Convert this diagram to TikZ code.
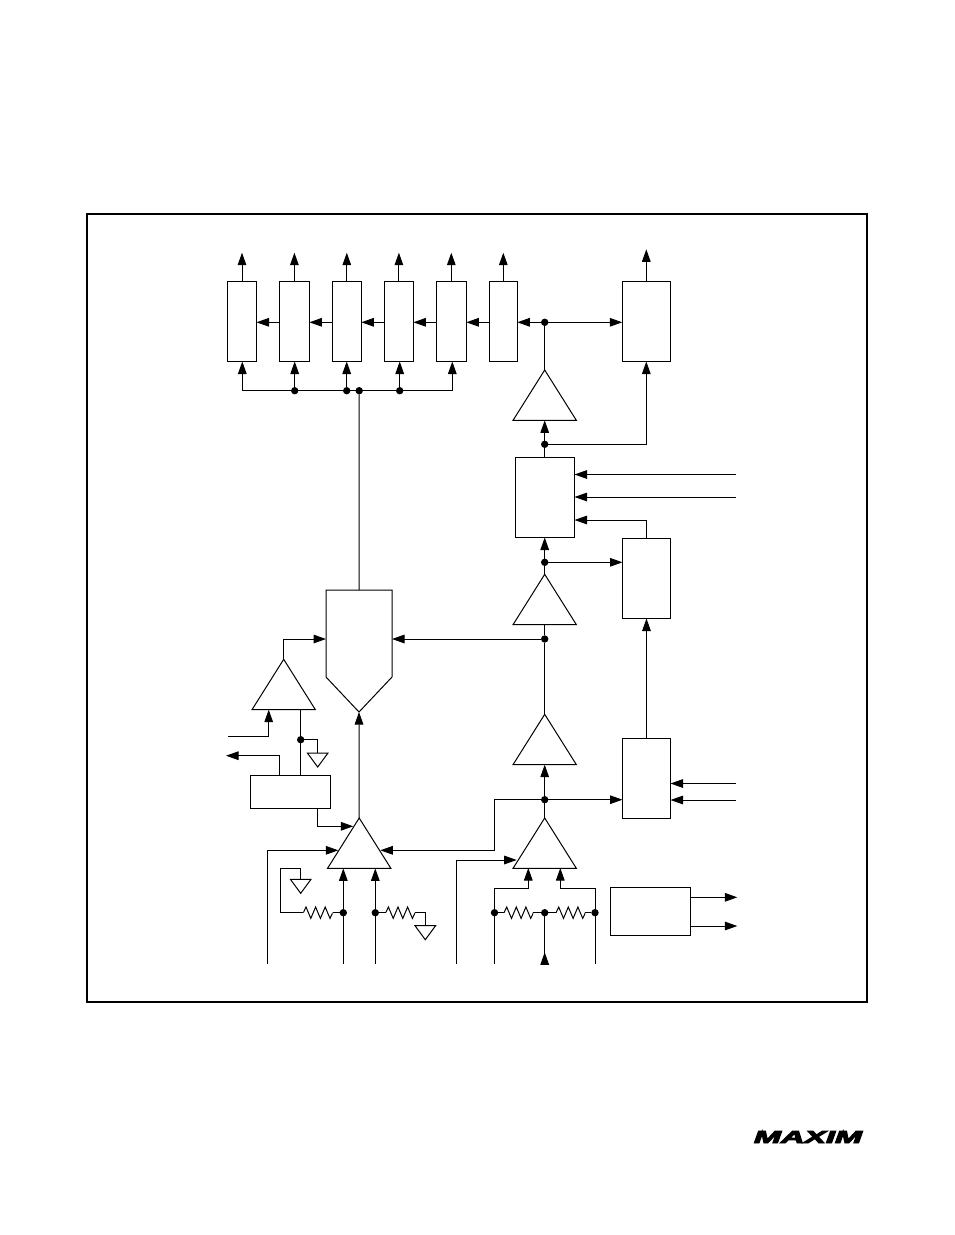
\documentclass[tikz,border=0pt]{standalone}
\usepackage{graphicx}
\usepackage{fontspec}
\newfontfamily\logofont[FakeBold=5]{Liberation Sans Bold Italic}
\usetikzlibrary{arrows.meta,shapes.geometric}
\tikzset{
  wire/.style={line width=1pt,line join=miter},
  arr/.style={wire,-{Triangle[length=12.5pt,width=8.6pt]}},
  frame/.style={draw,line width=2pt},
  box/.style={draw,line width=1pt,minimum width=#1,inner sep=0pt,outer sep=0pt,anchor=center},
  tall/.style={minimum height=80pt},
  amp/.style={draw,line width=1pt,isosceles triangle,isosceles triangle stretches,shape border rotate=90,
     minimum width=63.4pt,minimum height=50.4pt,inner sep=0pt,outer sep=0pt,anchor=apex},
  gnd/.style={draw,line width=1pt,isosceles triangle,isosceles triangle stretches,shape border rotate=-90,
     minimum width=20.6pt,minimum height=14pt,inner sep=0pt,outer sep=0pt,anchor=apex},
  dot/.style={circle,fill=black,minimum size=7.4pt,inner sep=0pt,outer sep=0pt},
  res/.style={minimum width=29.4pt,minimum height=14pt,inner sep=0pt,outer sep=0pt,
     path picture={\draw[line width=1pt] (path picture bounding box.west) -- ++(2.7,-5.7) -- ++(4.8,11.4)
       -- ++(4.8,-11.4) -- ++(4.8,11.4) -- ++(4.8,-11.4) -- ++(4.8,11.4) -- ++(2.7,-5.7);}},
}
\begin{document}
\begin{tikzpicture}[x=1pt,y=-1pt]
\useasboundingbox (0,0) rectangle (954,1235);
% frame
\node[frame,minimum width=780pt,minimum height=788pt,inner sep=0pt,outer sep=0pt] (frm) at (477,608) {};
% top boxes
\node[box=29pt,tall] (b1) at (242,321.5) {};
\node[box=30pt,tall] (b2) at (294.4,321.5) {};
\node[box=29pt,tall] (b3) at (346.8,321.5) {};
\node[box=29pt,tall] (b4) at (398.9,321.5) {};
\node[box=30pt,tall] (b5) at (451.3,321.5) {};
\node[box=28pt,tall] (b6) at (503.3,321.5) {};
\node[box=48pt,tall] (b7) at (646.3,321.5) {};
\node[box=59pt,tall] (b8) at (545,497.5) {};
\node[box=48pt,tall] (b9) at (646.5,578.5) {};
\node[box=48pt,tall] (b10) at (646.5,778.5) {};
\node[box=80pt,minimum height=33pt] (b11) at (290.3,791.8) {};
\node[box=80pt,minimum height=48pt] (b12) at (650.3,911.2) {};
% amplifiers
\node[amp] (t1) at (544.7,370) {};
\node[amp] (t2) at (544.7,574.3) {};
\node[amp] (t3) at (544.7,714.3) {};
\node[amp] (t4) at (359.2,818) {};
\node[amp] (t5) at (544.7,818) {};
\node[amp] (t6) at (283.7,659.3) {};
% pentagon
\coordinate (pTop) at (359,590);
\coordinate (pTip) at (359,712);
\coordinate (pL) at (326,639);
\coordinate (pR) at (392,639);
\draw[wire] (326,590) -- (392,590) -- (392,677) -- (pTip) -- (326,677) -- cycle;
% grounds
\node[gnd] (g1) at (317.7,767) {};
\node[gnd] (g2) at (300.7,893.3) {};
\node[gnd] (g3) at (425.3,939.7) {};
% resistors
\node[res] (r1) at (318,912.7) {};
\node[res] (r2) at (400.4,912.7) {};
\node[res] (r3) at (518.7,912.7) {};
\node[res] (r4) at (570.7,912.7) {};
% dots
\node[dot] (d1) at (294.7,390.7) {};
\node[dot] (d2) at (346.7,390.7) {};
\node[dot] (d3) at (359.2,390.7) {};
\node[dot] (d4) at (399.7,390.7) {};
\node[dot] (d5) at (544.7,322.3) {};
\node[dot] (d6) at (544.7,444.3) {};
\node[dot] (d7) at (544.7,562.3) {};
\node[dot] (d8) at (544.7,639) {};
\node[dot] (d9) at (544.7,799.7) {};
\node[dot] (d10) at (300.7,739.7) {};
\node[dot] (d11) at (343.3,912.7) {};
\node[dot] (d12) at (375.3,912.7) {};
\node[dot] (d13) at (494.5,912.7) {};
\node[dot] (d14) at (544.7,912.7) {};
\node[dot] (d15) at (595,912.7) {};
% free ends
\coordinate (top) at (0,252.7);
\coordinate (top7) at (0,249.3);
\coordinate (rowc) at (0,322.3);
\coordinate (low) at (0,964);
\coordinate (busL) at (242.3,390.7);
\coordinate (busR) at (452.3,390.7);
\coordinate (in1) at (736,474.5);
\coordinate (in2) at (736,497);
\coordinate (in3) at (736,783.5);
\coordinate (in4) at (736,800);
\coordinate (out1) at (737.3,897.3);
\coordinate (out2) at (737.3,926);
\coordinate (ainL) at (228,736.3);
\coordinate (aoutL) at (226,755.7);
% top outputs
\draw[arr] (b1.north) -- (b1.north |- top);
\draw[arr] (b2.north) -- (b2.north |- top);
\draw[arr] (b3.north) -- (b3.north |- top);
\draw[arr] (b4.north) -- (b4.north |- top);
\draw[arr] (b5.north) -- (b5.north |- top);
\draw[arr] (b6.north) -- (b6.north |- top);
\draw[arr] (b7.north) -- (b7.north |- top7);
% chain
\draw[arr] (b2.west |- rowc) -- (b1.east |- rowc);
\draw[arr] (b3.west |- rowc) -- (b2.east |- rowc);
\draw[arr] (b4.west |- rowc) -- (b3.east |- rowc);
\draw[arr] (b5.west |- rowc) -- (b4.east |- rowc);
\draw[arr] (b6.west |- rowc) -- (b5.east |- rowc);
\draw[arr] (d5) -- (b6.east |- rowc);
\draw[arr] (d5) -- (b7.west |- rowc);
\draw[wire] (t1.apex) -- (d5);
% bus
\draw[wire] (busL) -- (busR);
\draw[arr] (busL) -- (busL |- b1.south);
\draw[arr] (d1) -- (d1 |- b2.south);
\draw[arr] (d2) -- (d2 |- b3.south);
\draw[arr] (d4) -- (d4 |- b4.south);
\draw[arr] (busR) -- (busR |- b5.south);
\draw[wire] (pTop) -- (d3);
% right column
\draw[wire] (b8.north -| d6) -- (d6);
\draw[arr] (d6) -- (d6 |- t1.lower side);
\draw[arr] (d6) -| (b7.south);
\draw[arr] (in1) -- (in1 -| b8.east);
\draw[arr] (in2) -- (in2 -| b8.east);
\coordinate (c3) at (0,520);
\draw[arr] (b9.north) |- (c3 -| b8.east);
\draw[arr] (d7) -- (d7 |- b8.south);
\draw[wire] (t2.apex) -- (d7);
\draw[arr] (d7) -- (d7 -| b9.west);
\draw[wire] (d8) -- (d8 |- t2.lower side);
\draw[wire] (t3.apex) -- (d8);
\draw[arr] (d8) -- (pR);
\draw[arr] (d9) -- (d9 |- t3.lower side);
\draw[wire] (t5.apex) -- (d9);
\draw[arr] (d9) -- (d9 -| b10.west);
\draw[arr] (b10.north) -- (b9.south);
\draw[arr] (in3) -- (in3 -| b10.east);
\draw[arr] (in4) -- (in4 -| b10.east);
% amp t6 and box b11
\draw[arr] (t6.apex) |- (pL);
\draw[arr] (ainL) -| (268.7,709.7);
\draw[wire] (d10 |- t6.lower side) -- (d10 |- b11.north);
\draw[wire] (d10) -| (g1.lower side);
\draw[arr] (279.7,775.3) |- (aoutL);
\coordinate (q) at (353.3,826.3);
\draw[arr] (317.7,808.3) |- (q);
% amp t4
\draw[arr] (t4.apex) -- (pTip);
\coordinate (t4L) at (338.3,850.3);
\coordinate (t4R) at (380.3,850.3);
\draw[arr] (267.3,964) |- (t4L);
\draw[arr] (d9) -| (494.3,850.3) -- (t4R);
\draw[arr] (d11 |- low) -- (d11 |- t4.lower side);
\draw[arr] (d12 |- low) -- (d12 |- t4.lower side);
\draw[wire] (d11) -- (r1);
\draw[wire] (r1) -- (280.3,912.7) -- (280.3,868.3) -| (g2.lower side);
\draw[wire] (d12) -- (r2);
\draw[wire] (r2) -| (g3.lower side);
% amp t5
\coordinate (t5L) at (516.7,860);
\draw[arr] (456.3,964) |- (t5L);
\draw[arr] (d13 |- low) -- (d13 |- 0,888.3) -| (528.3,868);
\draw[arr] (d15 |- low) -- (d15 |- 0,888.3) -| (560.3,868);
\draw[wire] (d13) -- (r3) -- (d14) -- (r4) -- (d15);
\draw[wire] (d14 |- low) -- (d14);
\draw[arr] (d14 |- low) -- (544.7,952.3);
% b12 outputs
\draw[arr] (b12.east |- out1) -- (out1);
\draw[arr] (b12.east |- out2) -- (out2);
% logo
\node[inner sep=0pt,anchor=center] (logo) at (808,1137) {\resizebox{108pt}{12pt}{\logofont MAXIM}};
\end{tikzpicture}
\end{document}
